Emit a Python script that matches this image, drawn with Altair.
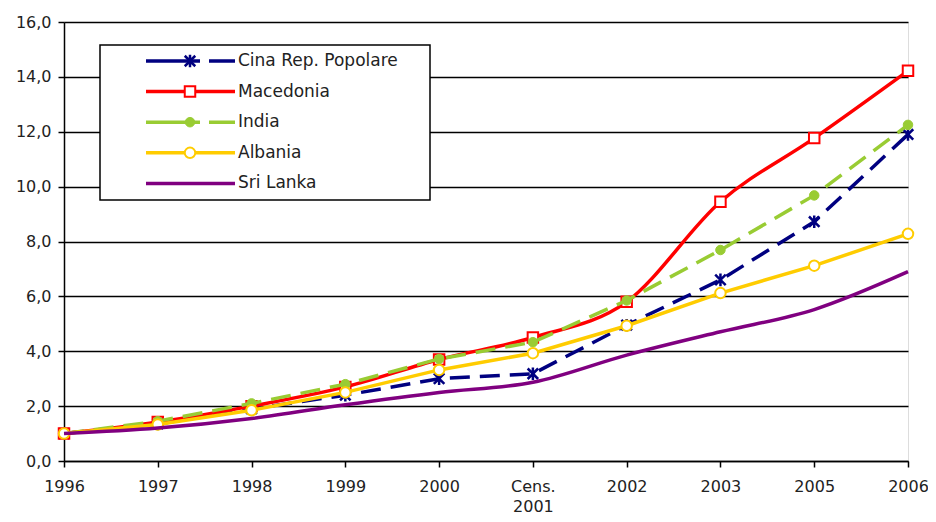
import altair as alt
import pandas as pd

categories = ["1996", "1997", "1998", "1999", "2000", "Cens.\n2001", "2002", "2003", "2005", "2006"]
series = ["Cina Rep. Popolare", "Macedonia", "India", "Albania", "Sri Lanka"]
cina = [1.0, 1.35, 1.9, 2.4, 3.0, 3.18, 4.95, 6.6, 8.72, 11.9]
macedonia = [1.0, 1.42, 2.0, 2.7, 3.7, 4.5, 5.8, 9.45, 11.77, 14.22]
india = [1.0, 1.45, 2.1, 2.8, 3.72, 4.33, 5.85, 7.69, 9.68, 12.25]
albania = [1.0, 1.33, 1.85, 2.5, 3.32, 3.93, 4.93, 6.12, 7.12, 8.28]
srilanka = [1.0, 1.2, 1.55, 2.05, 2.5, 2.87, 3.86, 4.71, 5.52, 6.9]
values = [cina, macedonia, india, albania, srilanka]

colors = ["#000080", "#ff0000", "#99cc33", "#ffcc00", "#800080"]
dashes = [[20, 10], None, [20, 10], None, None]
interps = ["linear", "monotone", "linear", "linear", "monotone"]
star = "M-1,-1L1,1M-1,1L1,-1M0,-1.2L0,1.2"
markers = [
    dict(shape=star, filled=False, size=110, strokeWidth=2.5),
    dict(shape="square", filled=True, fill="white", size=110, strokeWidth=2),
    dict(shape="circle", filled=True, size=90, strokeWidth=1),
    dict(shape="circle", filled=True, fill="white", size=110, strokeWidth=2),
    None,
]

rows = []
for s, vals in zip(series, values):
    for c, v in zip(categories, vals):
        rows.append({"series": s, "cat": c, "value": v})
df = pd.DataFrame(rows)

FONT = "DejaVu Sans"

x_enc = alt.X(
    "cat:N",
    sort=categories,
    scale=alt.Scale(type="point", padding=0),
    axis=alt.Axis(
        title=None, labelAngle=0, labelExpr="split(datum.label, '\\n')",
        domainColor="black", domainWidth=1.5, tickColor="black", tickWidth=1.5,
        tickSize=6, labelPadding=11, labelFont=FONT, labelFontSize=16,
        labelColor="#222", grid=False, labelLineHeight=20,
    ),
)
y_enc = alt.Y(
    "value:Q",
    scale=alt.Scale(domain=[0, 16], nice=False),
    axis=alt.Axis(
        title=None, values=list(range(0, 17, 2)),
        labelExpr="replace(format(datum.value, '.1f'), '.', ',')",
        grid=True, gridColor="black", gridWidth=1.5, gridOpacity=1,
        domainColor="black", domainWidth=1.5, tickColor="black", tickWidth=1.5,
        tickSize=6, labelPadding=7, labelFont=FONT, labelFontSize=16,
        labelColor="#222",
    ),
)

layers = []
legend_box = alt.Chart(alt.Data(values=[{"a": 1}])).mark_rect(
    fill="white", stroke="black", strokeWidth=1.5
).encode(x=alt.value(36), x2=alt.value(366), y=alt.value(23), y2=alt.value(178))

for i, s in enumerate(series):
    base = alt.Chart(df).transform_filter(alt.datum.series == s)
    lkw = dict(color=colors[i], strokeWidth=3.5, interpolate=interps[i])
    if dashes[i]:
        lkw["strokeDash"] = dashes[i]
    layers.append(base.mark_line(**lkw).encode(x=x_enc, y=y_enc))
    if markers[i]:
        m = dict(markers[i])
        pkw = dict(stroke=colors[i], opacity=1)
        if "fill" not in m and m.get("filled"):
            pkw["fill"] = colors[i]
        pkw.update(m)
        layers.append(base.mark_point(**pkw).encode(x=x_enc, y=y_enc))

leg_layers = [legend_box]
for i, s in enumerate(series):
    ld = alt.Chart(alt.Data(values=[{"series": s, "idx": i}])).transform_calculate(
        ly="39 + datum.idx * 30.6"
    )
    rkw = dict(color=colors[i], strokeWidth=3.5)
    if dashes[i]:
        rkw["strokeDash"] = [54, 9]
    leg_layers.append(ld.mark_rule(**rkw).encode(
        y=alt.Y("ly:Q", scale=None), x=alt.value(82), x2=alt.value(171)))
    if markers[i]:
        m = dict(markers[i])
        pkw = dict(stroke=colors[i], opacity=1)
        if "fill" not in m and m.get("filled"):
            pkw["fill"] = colors[i]
        pkw.update(m)
        leg_layers.append(ld.mark_point(**pkw).encode(
            y=alt.Y("ly:Q", scale=None), x=alt.value(126)))
    leg_layers.append(ld.mark_text(
        align="left", baseline="middle", font=FONT, fontSize=17, color="#222"
    ).encode(y=alt.Y("ly:Q", scale=None), x=alt.value(174), text="series:N"))

chart = alt.layer(*layers, *leg_layers).properties(
    width=844, height=439,
    autosize=alt.AutoSizeParams(type="none"),
    padding={"left": 56, "top": 14, "right": 20, "bottom": 60},
).configure_view(stroke="black", strokeWidth=1.5).configure(background="white")

chart.save("out.html", embed_options={"renderer": "svg", "actions": False})
